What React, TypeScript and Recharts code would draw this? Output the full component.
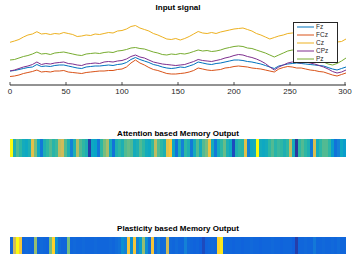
import React from 'react';
import { LineChart, Line, XAxis, YAxis, Legend, BarChart, Bar, Cell } from 'recharts';

// sample index (x axis)
const sampleIdx = [
  0, 4, 8, 12, 16, 20, 24, 28, 32, 36,
  40, 44, 48, 52, 56, 60, 64, 68, 72, 76,
  80, 84, 88, 92, 96, 100, 104, 108, 112, 116,
  120, 124, 128, 132, 136, 140, 144, 148, 152, 156,
  160, 164, 168, 172, 176, 180, 184, 188, 192, 196,
  200, 204, 208, 212, 216, 220, 224, 228, 232, 236,
  240, 244, 248, 252, 256, 260, 264, 268, 272, 276,
  280, 284, 288, 292, 296, 300,
];

const xTicks = [0, 50, 100, 150, 200, 250, 300];

const channelNames = ['Fz', 'FCz', 'Cz', 'CPz', 'Pz'];
const channelColors = ['#0072BD', '#D95319', '#EDB120', '#7E2F8E', '#77AC30'];

const fz = [
  14, 14.5, 15.5, 16.5, 17.5, 18, 20.5, 18.5, 19, 18.5,
  19.5, 20, 20, 19, 18, 17, 16.5, 18, 18.5, 19,
  19, 19.5, 20, 19.5, 20.5, 21, 22.5, 25.5, 27.5, 25.5,
  24, 22.5, 20.5, 19.5, 18, 17, 16.5, 17, 18, 17.5,
  19, 20.5, 23, 22, 21, 20.5, 21.5, 22, 23, 24,
  25, 25, 24.5, 23.5, 23, 22, 21, 19.5, 18, 16.5,
  19, 20, 21, 21.5, 22, 21.5, 21, 20.5, 20, 19.5,
  19, 17.5, 16, 15, 16.5, 18,
];
const fcz = [
  8.5, 9, 10, 11.5, 12.5, 13.5, 15, 13, 13.5, 13,
  14, 14, 14.5, 13, 12.5, 12, 11.5, 12.5, 13, 13.5,
  14, 14, 14.5, 14.5, 15.5, 16, 18, 22, 25, 22,
  20, 17.5, 15.5, 14.5, 13, 11.5, 11, 11, 11.5, 12,
  13, 14.5, 17, 16, 15, 14.5, 15, 15.5, 17, 17.5,
  18.5, 19, 18.5, 18, 17, 16.5, 16, 15, 14, 13,
  16, 17.5, 18.5, 18, 17, 17, 16, 15, 14.5, 13.5,
  13, 11.5, 10, 9, 10.5, 12,
];
const cz = [
  42.7, 44, 45.5, 48, 50, 51, 53.3, 51, 51.5, 50.5,
  51.5, 51, 52.5, 51.5, 50.5, 48.5, 49, 50, 49.5, 51,
  50.5, 51.5, 52.5, 52, 54, 54.5, 56, 58.5, 59.5, 57,
  55.5, 54, 51.5, 50, 48, 46, 45.5, 46.5, 45, 46.5,
  48.5, 51, 53.5, 52, 51.5, 52.5, 51.5, 53, 54, 55,
  56, 56.5, 57, 55.5, 54, 51.5, 50, 48, 46, 47.5,
  49, 50, 51.5, 52, 53, 54, 53, 51.5, 51, 49.5,
  48, 46.5, 45, 43, 43.5, 46,
];
const cpz = [
  14, 15, 16.5, 18, 19, 20.5, 23, 20.5, 21.5, 21,
  22, 22.5, 23, 21.5, 21, 20, 19.5, 21, 21.5, 22,
  21.5, 23, 23.5, 23, 24, 24.5, 26, 28.5, 30, 28,
  27, 25, 23, 22, 21, 20.5, 20, 19.5, 20, 20.5,
  22, 23.5, 25.5, 24.5, 24, 23.5, 24.5, 25.5, 27, 28,
  29.5, 30.5, 30, 28.5, 27.5, 26, 24, 21.5, 18, 15,
  18, 20, 22, 23, 22.5, 22, 23, 22, 21, 19.5,
  18, 16, 13.5, 12, 13, 15,
];
const pz = [
  25, 25.5, 27, 28.5, 29.5, 31, 33, 31, 31.5, 30.5,
  32, 32.5, 33, 32, 31, 30, 29.5, 31, 31.5, 32,
  31.5, 32.5, 33, 32.5, 34, 34.5, 35.5, 37, 37.5, 36.5,
  36, 34.5, 33, 32, 30.5, 30, 31, 30.5, 31.5, 31,
  32, 33.5, 35, 34, 34.5, 33.5, 34, 35, 36.5, 37.5,
  38.5, 39, 38.5, 37, 36.5, 35, 33.5, 32, 30, 28,
  30, 32, 34, 35, 34, 32.5, 31, 29, 27, 25,
  23, 21, 20, 21.5, 24, 27,
];

// memory outputs (normalised 0..1, one value per column)
const attentionMemory = [
  1.0, 0.45, 0.55, 0.5, 0.42, 0.4, 0.45, 0.8, 0.6, 0.4,
  0.22, 0.45, 0.5, 0.55, 0.48, 0.52, 0.72, 0.75, 0.55, 0.45,
  0.25, 0.45, 0.7, 0.55, 0.5, 0.45, 0.05, 0.4, 0.38, 0.22,
  0.5, 0.6, 0.68, 0.42, 0.2, 0.45, 0.5, 0.45, 0.55, 0.58,
  0.55, 0.42, 0.45, 0.55, 0.5, 0.42, 0.4, 0.5, 0.72, 0.55,
  0.5, 0.45, 0.8, 0.85, 0.4, 0.2, 0.45, 0.25, 0.5, 0.45,
  0.22, 0.42, 0.55, 0.42, 0.55, 0.6, 0.82, 0.42, 0.22, 0.42,
  0.5, 0.58, 0.45, 0.4, 0.08, 0.45, 0.5, 0.48, 0.8, 0.25,
  0.4, 0.42, 1.0, 0.42, 0.4, 0.42, 0.5, 0.55, 0.48, 0.52,
  0.5, 0.45, 0.5, 0.72, 0.42, 0.03, 0.5, 0.55, 0.5, 0.45,
  0.22, 0.78, 0.42, 0.5, 0.55, 0.55, 0.5, 0.35, 0.2, 0.25,
  0.4, 0.35,
];
const plasticityMemory = [
  0.16, 0.75, 1.0, 0.85, 0.16, 0.17, 0.16, 0.15, 0.65, 0.16,
  0.17, 0.16, 0.15, 0.6, 0.9, 0.3, 0.18, 0.16, 0.16, 0.6,
  0.16, 0.17, 0.16, 0.16, 0.17, 0.16, 0.16, 0.16, 0.17, 0.16,
  0.16, 0.16, 0.16, 0.17, 0.16, 0.18, 0.2, 0.3, 0.25, 0.85,
  0.3, 0.85, 0.25, 0.35, 0.65, 0.3, 0.18, 0.85, 0.18, 0.25,
  0.17, 0.18, 0.75, 0.17, 0.16, 0.18, 0.16, 0.16, 0.25, 0.17,
  0.16, 0.15, 0.16, 0.14, 0.08, 0.15, 0.16, 0.17, 0.16, 0.9,
  0.95, 0.17, 0.16, 0.16, 0.15, 0.16, 0.16, 0.15, 0.16, 0.16,
  0.17, 0.16, 0.16, 0.15, 0.16, 0.16, 0.16, 0.17, 0.16, 0.16,
  0.15, 0.16, 0.16, 0.16, 0.14, 0.05, 0.16, 0.16, 0.17, 0.16,
  0.16, 0.22, 0.16, 0.16, 0.17, 0.16, 0.16, 0.17, 0.16, 0.18,
  0.16, 0.16,
];

// parula colormap stops (styling)
const parulaStops: number[][] = [
  [53, 42, 135], [15, 92, 221], [20, 129, 214], [6, 164, 202], [46, 183, 164],
  [135, 191, 119], [209, 187, 89], [254, 200, 50], [249, 251, 14],
];
function parula(v: number): string {
  const c = Math.max(0, Math.min(1, v)) * (parulaStops.length - 1);
  const i = Math.min(parulaStops.length - 2, Math.floor(c));
  const f = c - i;
  const a = parulaStops[i];
  const b = parulaStops[i + 1];
  const r = Math.round(a[0] + (b[0] - a[0]) * f);
  const g = Math.round(a[1] + (b[1] - a[1]) * f);
  const bl = Math.round(a[2] + (b[2] - a[2]) * f);
  return `rgb(${r},${g},${bl})`;
}

const lineData = sampleIdx.map((t, k) => ({
  t,
  Fz: fz[k],
  FCz: fcz[k],
  Cz: cz[k],
  CPz: cpz[k],
  Pz: pz[k],
}));

const attentionData = attentionMemory.map((v, i) => ({ i, v }));
const plasticityData = plasticityMemory.map((v, i) => ({ i, v }));

const AXIS = '#262626';
const FONT = '"Liberation Sans", Arial, Helvetica, sans-serif';

const BottomTick = (props: any) => {
  const { x, y, payload } = props;
  return (
    <g>
      <line x1={x} x2={x} y1={y} y2={y - 3} stroke={AXIS} strokeWidth={0.8} />
      <text x={x} y={y + 8.5} textAnchor="middle" fontSize={8} fill={AXIS} fontFamily={FONT}>
        {payload.value}
      </text>
    </g>
  );
};
const TopTick = (props: any) => {
  const { x, y } = props;
  return <line x1={x} x2={x} y1={y} y2={y + 3} stroke={AXIS} strokeWidth={0.8} />;
};

const LegendBox = () => (
  <div
    style={{
      width: 45,
      height: 41,
      border: `1px solid ${AXIS}`,
      background: '#fff',
      boxSizing: 'border-box',
      fontFamily: FONT,
    }}
  >
    {channelNames.map((name, k) => (
      <div key={name} style={{ display: 'flex', alignItems: 'center', height: 8.1 }}>
        <svg width={22} height={8} style={{ display: 'block' }}>
          <line x1={3} x2={20} y1={4} y2={4} stroke={channelColors[k]} strokeWidth={1} />
        </svg>
        <span style={{ fontSize: 6.5, color: AXIS, lineHeight: '8px' }}>{name}</span>
      </div>
    ))}
  </div>
);

const titleStyle = (top: number): React.CSSProperties => ({
  position: 'absolute',
  left: 10,
  width: 336,
  top,
  textAlign: 'center',
  fontSize: 8,
  lineHeight: '8px',
  fontWeight: 'bold',
  color: '#000',
  fontFamily: FONT,
  whiteSpace: 'nowrap',
});

const Strip = ({ data, top, height }: { data: { i: number; v: number }[]; top: number; height: number }) => (
  <div style={{ position: 'absolute', left: 0, top }}>
    <BarChart
      width={357}
      height={height}
      data={data}
      margin={{ top: 0, right: 11, bottom: 0, left: 10 }}
      barCategoryGap={0}
      barGap={0}
    >
      <XAxis dataKey="i" type="category" height={0} tick={false} tickLine={false} axisLine={{ stroke: AXIS, strokeWidth: 1.2 }} />
      <XAxis xAxisId="top" dataKey="i" type="category" orientation="top" height={0} tick={false} tickLine={false} axisLine={{ stroke: AXIS, strokeWidth: 1.2 }} />
      <YAxis type="number" domain={[0, 1]} width={0} tick={false} tickLine={false} axisLine={{ stroke: AXIS, strokeWidth: 1.2 }} />
      <YAxis yAxisId="r" type="number" domain={[0, 1]} orientation="right" width={0} tick={false} tickLine={false} axisLine={{ stroke: AXIS, strokeWidth: 1.2 }} />
      <Bar dataKey={() => 1} isAnimationActive={false}>
        {data.map((d) => (
          <Cell key={d.i} fill={parula(d.v)} />
        ))}
      </Bar>
    </BarChart>
  </div>
);

export default function App() {
  return (
    <div style={{ position: 'absolute', left: 0, top: 0, width: 357, height: 263, background: '#fff', overflow: 'hidden' }}>
      <div style={titleStyle(4)}>Input signal</div>
      <div style={{ position: 'absolute', left: 0, top: 0 }}>
        <LineChart width={357} height={100} data={lineData} margin={{ top: 14, right: 11, bottom: 0, left: 10 }}>
          <XAxis
            dataKey="t"
            type="number"
            domain={[0, 300]}
            ticks={xTicks}
            height={15}
            tickSize={0}
            tickMargin={0}
            tickLine={false}
            tick={<BottomTick />}
            axisLine={{ stroke: AXIS, strokeWidth: 1 }}
          />
          <XAxis
            xAxisId="top"
            dataKey="t"
            type="number"
            domain={[0, 300]}
            ticks={xTicks}
            orientation="top"
            height={0}
            tickSize={0}
            tickMargin={0}
            tickLine={false}
            tick={<TopTick />}
            axisLine={{ stroke: AXIS, strokeWidth: 1 }}
          />
          <YAxis type="number" domain={[0, 71]} width={0} tick={false} tickLine={false} axisLine={{ stroke: AXIS, strokeWidth: 1 }} />
          <YAxis yAxisId="r" type="number" domain={[0, 71]} orientation="right" width={0} tick={false} tickLine={false} axisLine={{ stroke: AXIS, strokeWidth: 1 }} />
          {channelNames.map((name, k) => (
            <Line
              key={name}
              dataKey={name}
              name={name}
              stroke={channelColors[k]}
              strokeWidth={1}
              dot={false}
              isAnimationActive={false}
              type="linear"
            />
          ))}
          <Legend
            layout="horizontal"
            verticalAlign="middle"
            align="center"
            content={<LegendBox />}
            wrapperStyle={{ position: 'absolute', left: 293, top: 22, width: 45, height: 41 }}
          />
        </LineChart>
      </div>
      <div style={titleStyle(129.5)}>Attention based Memory Output</div>
      <Strip data={attentionData} top={139} height={18} />
      <div style={titleStyle(224.5)}>Plasticity based Memory Output</div>
      <Strip data={plasticityData} top={237} height={17} />
    </div>
  );
}
